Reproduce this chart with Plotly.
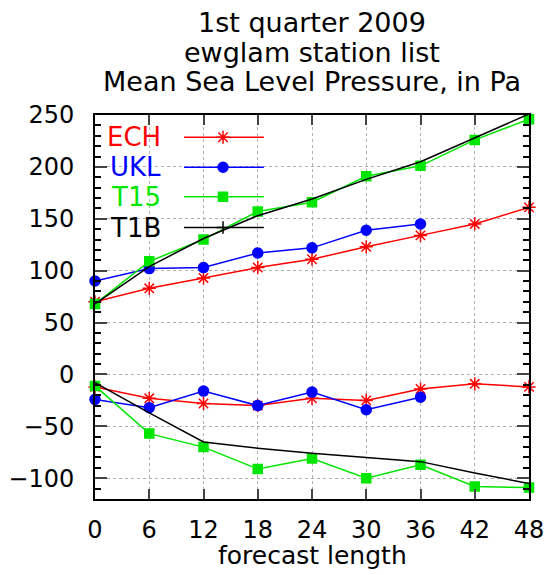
import plotly.graph_objects as go

hours = [0, 6, 12, 18, 24, 30, 36, 42, 48]

# upper group (standard deviation) and lower group (bias), in Pa
ech_std = [70, 83, 93, 103, 111, 123, 134, 145, 161]
ukl_std = [90, 102, 103, 117, 122, 139, 145]
t15_std = [68, 109, 130, 157, 166, 191, 201, 226, 246]
t1b_std = [68, 104, 131, 153, 169, 188, 205, 228, 251]

ech_bias = [-12, -23, -28, -30, -23, -25, -14, -9, -12]
ukl_bias = [-24, -32, -16, -30, -17, -34, -22]
t15_bias = [-11, -57, -70, -91, -81, -100, -87, -108, -109]
t1b_bias = [-8, -37, -65, -71, -76, -80, -84, -95, -105]

names = ["ECH", "UKL", "T15", "T1B"]
colors = ["#ff0000", "#0000ff", "#00e600", "#000000"]
symbols = ["asterisk-open", "circle", "square", None]
msizes = [11, 10, 9, 0]
series = [(ech_std, ech_bias), (ukl_std, ukl_bias), (t15_std, t15_bias), (t1b_std, t1b_bias)]

title_lines = ["1st quarter 2009", "ewglam station list", "Mean Sea Level Pressure, in Pa"]

FONT = "DejaVu Sans"

fig = go.Figure()

for name, col, sym, ms, (std, bias) in zip(names, colors, symbols, msizes, series):
    mode = "lines" if sym is None else "lines+markers"
    for vals in (std, bias):
        fig.add_trace(go.Scatter(
            x=hours[:len(vals)], y=vals, mode=mode, name=name,
            line=dict(color=col, width=1.5),
            marker=dict(symbol=sym or "circle", size=ms, color=col,
                        line=dict(color=col, width=1.5)),
            cliponaxis=False, showlegend=False))

# legend keys, drawn on a hidden 0..1 overlay axis
key_y = [0.942, 0.864, 0.787, 0.707]
for name, col, sym, ms, ky in zip(names, colors, symbols, msizes, key_y):
    fig.add_trace(go.Scatter(
        x=[0.205, 0.389], y=[ky, ky], mode="lines", xaxis="x2", yaxis="y2",
        line=dict(color=col, width=1.5), showlegend=False, hoverinfo="skip"))
    fig.add_trace(go.Scatter(
        x=[0.295], y=[ky], mode="markers", xaxis="x2", yaxis="y2",
        marker=dict(symbol=sym or "cross-thin-open", size=ms if sym else 9, color=col,
                    line=dict(color=col, width=1.5)),
        showlegend=False, hoverinfo="skip"))
    fig.add_annotation(x=0.157, y=ky, xref="x2", yref="y2", text=name,
                       showarrow=False, xanchor="right", yanchor="middle",
                       font=dict(family=FONT, size=26, color=col))

fig.add_shape(type="rect", xref="x2", yref="y2", x0=0.005, x1=0.41, y0=0.66, y1=0.99,
              fillcolor="white", line_width=0, layer="below")

for txt, ty in zip(title_lines, [1.240, 1.162, 1.086]):
    fig.add_annotation(x=0.5, y=ty, xref="paper", yref="paper", text=txt,
                       showarrow=False, xanchor="center", yanchor="middle",
                       font=dict(family=FONT, size=27, color="black"))

fig.add_annotation(x=0.502, y=-0.146, xref="paper", yref="paper", text="forecast length",
                   showarrow=False, xanchor="center", yanchor="middle",
                   font=dict(family=FONT, size=25, color="black"))

# the page puts the figure 8px in from the top-left corner
fig.update_layout(
    width=544, height=567,
    margin=dict(l=87, r=23, t=107, b=76),
    paper_bgcolor="white", plot_bgcolor="white",
    font=dict(family=FONT, size=24, color="black"),
    xaxis=dict(range=[0, 48], tickvals=hours, ticks="inside", ticklen=10, tickwidth=1.5,
               mirror="ticks", showline=True, linecolor="black", linewidth=2,
               showgrid=True, gridcolor="#b0b0b0", griddash="dot", gridwidth=1,
               zeroline=False, ticklabelstandoff=8, automargin=False),
    yaxis=dict(range=[-120, 250], dtick=50, ticks="inside", ticklen=12, tickwidth=1.5,
               mirror="ticks", showline=True, linecolor="black", linewidth=2,
               showgrid=True, gridcolor="#b0b0b0", griddash="dot", gridwidth=1,
               zeroline=False, ticklabelstandoff=14, automargin=False,
               minor=dict(dtick=10, ticks="inside", ticklen=6, tickcolor="black",
                          showgrid=False)),
    xaxis2=dict(range=[0, 1], overlaying="x", visible=False, fixedrange=True),
    yaxis2=dict(range=[0, 1], overlaying="y", visible=False, fixedrange=True),
)

fig.write_html("out.html")
